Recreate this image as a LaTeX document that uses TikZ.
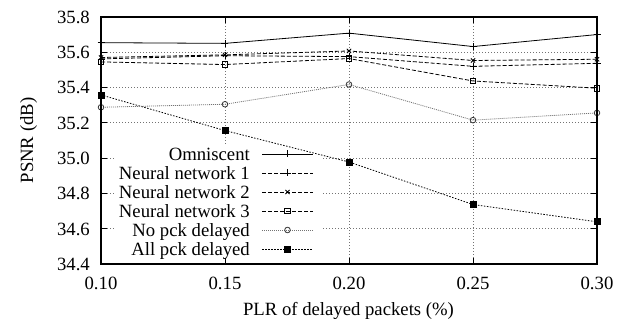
\documentclass[tikz,border=0pt]{standalone}
\usepackage{fontspec}
\setmainfont{Liberation Serif}
\newfontfamily\plotfont{Liberation Serif}
\usetikzlibrary{plotmarks}
\begin{document}
\begin{tikzpicture}[x=1pt,y=1pt,
  every node/.style={inner sep=0pt,font=\plotfont\fontsize{18.7}{20}\selectfont},
  gridline/.style={black!55,line width=0.6pt,dash pattern=on 1pt off 2pt},
  frameline/.style={black,line width=1.3pt},
  omni/.style={black,line width=0.8pt,mark=+,mark size=3.5pt,mark options={solid}},
  nnone/.style={black,line width=0.8pt,dash pattern=on 4pt off 2pt,mark=+,mark size=3.5pt,mark options={solid}},
  nntwo/.style={black,line width=0.8pt,dash pattern=on 4pt off 2pt,mark=x,mark size=3pt,mark options={solid}},
  nnthree/.style={black,line width=0.8pt,dash pattern=on 4pt off 2pt,mark=square,mark size=2.8pt,mark options={solid}},
  nopck/.style={black!55,line width=0.8pt,dash pattern=on 1pt off 1pt,mark=o,mark size=2.8pt,mark options={solid,black!80}},
  allpck/.style={black,line width=0.8pt,dash pattern=on 1.5pt off 1.5pt,mark=square*,mark size=3pt,mark options={solid}},
  ticklab/.style={anchor=base},
  yticklab/.style={anchor=base east}]
\useasboundingbox (0,0) rectangle (625,324);
% axes box: x 101..597, y 60..307
\begin{scope}[shift={(-147pt,-6011.6pt)},x=2480pt,y=176.5pt]
  \foreach \v in {34.6,34.8,35.0,35.2,35.4,35.6}{
    \draw[gridline] (0.10,\v) -- (0.30,\v);
  }
  \foreach \u in {0.15,0.20,0.25}{
    \draw[gridline] (\u,34.4) -- (\u,35.8);
  }
\end{scope}
% legend background
\fill[white] (115,66) rectangle (322,179);
\begin{scope}[shift={(-147pt,-6011.6pt)},x=2480pt,y=176.5pt]
  \foreach \v in {34.4,34.6,34.8,35.0,35.2,35.4,35.6,35.8}{
    \draw[black,line width=0.8pt] (0.10,\v) -- ++(6pt,0);
    \draw[black,line width=0.8pt] (0.30,\v) -- ++(-6pt,0);
  }
  \foreach \u in {0.10,0.15,0.20,0.25,0.30}{
    \draw[black,line width=0.8pt] (\u,34.4) -- ++(0,6pt);
    \draw[black,line width=0.8pt] (\u,35.8) -- ++(0,-6pt);
  }
  \draw[allpck] plot coordinates {(0.10,35.358) (0.15,35.156) (0.20,34.978) (0.25,34.737) (0.30,34.639)};
  \draw[nopck] plot coordinates {(0.10,35.288) (0.15,35.305) (0.20,35.417) (0.25,35.215) (0.30,35.256)};
  \draw[nnthree] plot coordinates {(0.10,35.545) (0.15,35.530) (0.20,35.564) (0.25,35.437) (0.30,35.396)};
  \draw[nntwo] plot coordinates {(0.10,35.570) (0.15,35.585) (0.20,35.607) (0.25,35.553) (0.30,35.560)};
  \draw[nnone] plot coordinates {(0.10,35.562) (0.15,35.580) (0.20,35.575) (0.25,35.520) (0.30,35.537)};
  \draw[omni] plot coordinates {(0.10,35.654) (0.15,35.650) (0.20,35.708) (0.25,35.632) (0.30,35.700)};
  \draw[frameline] (0.10,34.4) rectangle (0.30,35.8);
\end{scope}
% tick labels
\node[yticklab] (y1) at (90,300.7) {35.8};
\node[yticklab] (y2) at (90,265.4) {35.6};
\node[yticklab] (y3) at (90,230.1) {35.4};
\node[yticklab] (y4) at (90,194.8) {35.2};
\node[yticklab] (y5) at (90,159.5) {35.0};
\node[yticklab] (y6) at (90,124.2) {34.8};
\node[yticklab] (y7) at (90,88.9) {34.6};
\node[yticklab] (y8) at (90,53.6) {34.4};
\node[ticklab] (x1) at (101,34) {0.10};
\node[ticklab] (x2) at (225,34) {0.15};
\node[ticklab] (x3) at (349,34) {0.20};
\node[ticklab] (x4) at (473,34) {0.25};
\node[ticklab] (x5) at (597,34) {0.30};
% axis labels
\node[anchor=base] (xl) at (348.5,8.5) {PLR of delayed packets (\%)};
\node[anchor=base,rotate=90] (yl) at (33,183.5) {PSNR (dB)};
% legend
\node[anchor=base east] (l1) at (250,163.7) {Omniscent};
\node[anchor=base east] (l2) at (250,144.7) {Neural network 1};
\node[anchor=base east] (l3) at (250,125.7) {Neural network 2};
\node[anchor=base east] (l4) at (250,106.7) {Neural network 3};
\node[anchor=base east] (l5) at (250,87.7) {No pck delayed};
\node[anchor=base east] (l6) at (250,68.7) {All pck delayed};
\draw[omni] (262,170) -- (313,170);
\path[omni] plot coordinates {(287.5,170)};
\draw[nnone] (262,151) -- (313,151);
\path[nnone] plot coordinates {(287.5,151)};
\draw[nntwo] (262,132) -- (313,132);
\path[nntwo] plot coordinates {(287.5,132)};
\draw[nnthree] (262,113) -- (313,113);
\path[nnthree] plot coordinates {(287.5,113)};
\draw[nopck] (262,94) -- (313,94);
\path[nopck] plot coordinates {(287.5,94)};
\draw[allpck] (262,75) -- (313,75);
\path[allpck] plot coordinates {(287.5,75)};
\end{tikzpicture}
\end{document}
